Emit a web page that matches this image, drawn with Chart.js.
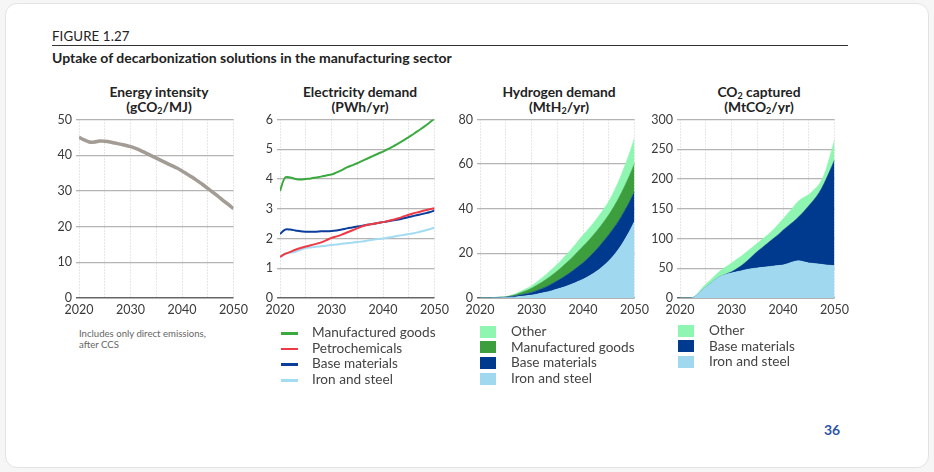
<!DOCTYPE html>
<html>
<head>
<meta charset="utf-8">
<script src="https://cdn.jsdelivr.net/npm/chart.js@4.4.0/dist/chart.umd.min.js"></script>
<style>
  html, body { margin: 0; padding: 0; }
  body { width: 934px; height: 472px; background: #f6f6f7; font-family: Lato, "Noto Sans", sans-serif; color: #222; position: relative; overflow: hidden; }
  #card { position: absolute; left: 5px; top: 3px; width: 922px; height: 463px; background: #fff; border: 1px solid #e3e3e3; border-radius: 12px; }
  .abs { position: absolute; }
  #fig { left: 52px; top: 28px; font-size: 13.3px; letter-spacing: 0.1px; }
  #rule { left: 52px; top: 45px; width: 796px; height: 1px; background: #333; }
  #sub { left: 52px; top: 49px; font-size: 14px; font-weight: bold; }
  .ttl { width: 200px; text-align: center; font-size: 13.8px; font-weight: bold; line-height: 15px; top: 84px; }
  .ttl sub { font-size: 9px; vertical-align: -2px; line-height: 0; }
  canvas.panel { position: absolute; top: 108px; }
  #note { left: 79px; top: 328px; font-size: 9.6px; color: #666; line-height: 11px; }
  .leg { font-size: 13.6px; color: #444; }
  .row { position: relative; height: 15.7px; line-height: 15.7px; white-space: nowrap; }
  .row i { position: absolute; left: 0; }
  .row span { position: absolute; }
  #page { left: 824px; top: 421px; font-size: 14px; font-weight: bold; color: #2f56a6; }
</style>
</head>
<body>
<div id="card"></div>
<div id="fig" class="abs">FIGURE 1.27</div>
<div id="rule" class="abs"></div>
<div id="sub" class="abs">Uptake of decarbonization solutions in the manufacturing sector</div>

<div class="abs ttl" style="left:59px">Energy intensity<br>(gCO<sub>2</sub>/MJ)</div>
<div class="abs ttl" style="left:260px">Electricity demand<br>(PWh/yr)</div>
<div class="abs ttl" style="left:459px">Hydrogen demand<br>(MtH<sub>2</sub>/yr)</div>
<div class="abs ttl" style="left:659px">CO<sub>2</sub> captured<br>(MtCO<sub>2</sub>/yr)</div>

<canvas id="c1" class="panel" style="left:39px" width="213" height="214"></canvas>
<canvas id="c2" class="panel" style="left:240px" width="213" height="214"></canvas>
<canvas id="c3" class="panel" style="left:440px" width="213" height="214"></canvas>
<canvas id="c4" class="panel" style="left:640px" width="213" height="214"></canvas>

<div id="note" class="abs">Includes only direct emissions,<br>after CCS</div>
<div id="leg2" class="abs leg" style="left:281px; top:325px; width:180px"></div>
<div id="leg3" class="abs leg" style="left:480px; top:324px; width:180px"></div>
<div id="leg4" class="abs leg" style="left:678px; top:323px; width:180px"></div>
<div id="page" class="abs">36</div>

<script>
const years = [2020,2021,2022,2023,2024,2025,2026,2027,2028,2029,2030,2031,2032,2033,2034,2035,2036,2037,2038,2039,2040,2041,2042,2043,2044,2045,2046,2047,2048,2049,2050];
const xTickLabels = [2020, 2030, 2040, 2050];

// Energy intensity (gCO2/MJ)
const energyIntensity = [45,44.3,43.7,43.7,44.0,43.9,43.7,43.4,43.1,42.8,42.4,41.9,41.3,40.6,39.9,39.2,38.5,37.8,37.1,36.4,35.6,34.7,33.8,32.8,31.8,30.7,29.6,28.5,27.3,26.2,25];

// Electricity demand (PWh/yr)
const elecManufactured = [3.6,4.05,4.05,4.0,3.98,4.0,4.02,4.05,4.08,4.12,4.15,4.22,4.3,4.39,4.46,4.53,4.61,4.69,4.77,4.85,4.92,5.01,5.1,5.2,5.3,5.41,5.52,5.64,5.76,5.89,6.03];
const elecPetrochem = [1.38,1.48,1.55,1.62,1.68,1.73,1.77,1.82,1.87,1.94,2.02,2.07,2.13,2.2,2.27,2.34,2.41,2.46,2.49,2.52,2.55,2.59,2.63,2.68,2.74,2.8,2.85,2.89,2.94,2.98,3.02];
const elecBase = [2.15,2.3,2.3,2.27,2.24,2.23,2.23,2.23,2.24,2.24,2.25,2.27,2.3,2.34,2.37,2.4,2.43,2.46,2.49,2.52,2.55,2.58,2.61,2.64,2.68,2.72,2.76,2.8,2.84,2.88,2.94];
const elecIron = [1.38,1.5,1.52,1.55,1.62,1.68,1.7,1.72,1.74,1.76,1.78,1.8,1.82,1.84,1.86,1.88,1.9,1.93,1.96,1.98,2.0,2.03,2.06,2.09,2.12,2.15,2.18,2.22,2.26,2.31,2.36];

// Hydrogen demand (MtH2/yr), stacked
const h2Iron = [0,0,0.05,0.1,0.15,0.2,0.35,0.5,0.75,1.0,1.3,1.7,2.2,2.7,3.3,4.0,4.7,5.5,6.4,7.4,8.4,9.6,11,12.6,14.5,16.6,19.2,22.2,25.8,29.8,34.4];
const h2Base = [0,0,0.05,0.1,0.15,0.2,0.35,0.5,0.7,0.95,1.2,1.6,2.0,2.5,3.1,3.7,4.4,5.1,5.8,6.6,7.4,8.3,9.2,10.1,11.0,11.8,12.3,12.7,13.0,13.2,13.3];
const h2Manuf = [0,0,0.03,0.05,0.08,0.1,0.3,0.6,1.0,1.4,1.9,2.4,2.9,3.4,3.9,4.4,5.0,5.6,6.2,6.8,7.4,7.7,8.0,8.3,8.6,8.9,9.5,10.2,11,11.8,12.6];
const h2Other = [0,0,0.02,0.04,0.07,0.1,0.25,0.45,0.65,0.9,1.1,1.5,1.9,2.3,2.7,3.0,3.4,3.8,4.2,4.6,5.0,5.2,5.4,5.6,5.8,6.0,6.8,7.7,8.8,10.0,11.4];

// CO2 captured (MtCO2/yr), stacked
const co2Iron = [0,0,0,3,11,18,25,32,37,40,42,44,46,48,49.5,50.5,51.5,52.5,53.5,54.5,55.5,58,61,62.5,61,59,58,57,56,55,54.5];
const co2Base = [0,0,0,0,0,0,0,0,0,0.5,2,5,9,14,20.5,27.5,33.5,39.5,45.5,51.5,58.5,63,67,73.5,84,96,107,120,137,157,177.5];
const co2Other = [0,0,0,1,3,5,6,7.6,10,12.5,14.7,16,16,16,15,14,14,14,15,17,19,22,25,27,24,19,17,14,15,23,34];

Chart.defaults.font.family = 'Lato, "Noto Sans", sans-serif';
Chart.defaults.font.size = 12;
Chart.defaults.color = '#333';

const pts = (vals) => years.map((yr, i) => ({ x: yr, y: vals[i] }));

const lineSet = (label, vals, color, width) => ({
    label: label,
    data: pts(vals),
    borderColor: color,
    borderWidth: width,
    pointRadius: 0,
    tension: 0.35,
    fill: false
});

const areaSet = (label, vals, color, first) => ({
    label: label,
    data: pts(vals),
    backgroundColor: color,
    borderColor: color,
    borderWidth: 0.5,
    pointRadius: 0,
    cubicInterpolationMode: 'monotone',
    fill: first ? 'origin' : '-1'
});

function makeChart(id, datasets, yMax, yStep, stacked) {
    return new Chart(document.getElementById(id), {
        type: 'line',
        data: { datasets: datasets },
        options: {
            responsive: false,
            animation: false,
            layout: { padding: { top: 8, right: 14, left: 0, bottom: 0 } },
            plugins: { legend: { display: false }, tooltip: { enabled: false } },
            scales: {
                x: {
                    type: 'linear',
                    min: 2020,
                    max: 2050,
                    afterFit: (s) => { s.height = 24; },
                    ticks: {
                        stepSize: 5,
                        autoSkip: false,
                        maxRotation: 0,
                        padding: 4,
                        font: { size: 12.5 },
                        color: '#3a3a3a',
                        callback: (v) => xTickLabels.includes(v) ? String(v) : ''
                    },
                    grid: { color: '#cfcfcf', lineWidth: 1, drawTicks: false },
                    border: { display: false, dash: [1, 2] }
                },
                y: {
                    min: 0,
                    max: yMax,
                    stacked: stacked,
                    afterFit: (s) => { s.width = 40; },
                    ticks: { stepSize: yStep, padding: 4, font: { size: 12.5 }, color: '#3a3a3a' },
                    grid: {
                        color: (c) => c.tick && c.tick.value === 0 ? '#666' : '#b4b4b4',
                        lineWidth: (c) => c.tick && c.tick.value === 0 ? 1.5 : 1.3,
                        tickLength: 3
                    },
                    border: { display: false }
                }
            }
        }
    });
}

makeChart('c1', [lineSet('Energy intensity', energyIntensity, '#a39c94', 3.5)], 50, 10, false);

makeChart('c2', [
    lineSet('Manufactured goods', elecManufactured, '#3aaa3f', 2),
    lineSet('Petrochemicals', elecPetrochem, '#ee3a45', 2),
    lineSet('Base materials', elecBase, '#0b3d9c', 2),
    lineSet('Iron and steel', elecIron, '#a3dcf2', 2)
], 6, 1, false);

makeChart('c3', [
    areaSet('Iron and steel', h2Iron, '#9fd8ef', true),
    areaSet('Base materials', h2Base, '#003a8e', false),
    areaSet('Manufactured goods', h2Manuf, '#3c9e3c', false),
    areaSet('Other', h2Other, '#8ff6b2', false)
], 80, 20, true);

makeChart('c4', [
    areaSet('Iron and steel', co2Iron, '#9fd8ef', true),
    areaSet('Base materials', co2Base, '#003a8e', false),
    areaSet('Other', co2Other, '#8ff6b2', false)
], 300, 50, true);

// legends
function legend(id, items, kind, textLeft) {
    const el = document.getElementById(id);
    items.forEach(([label, color]) => {
        const row = document.createElement('div');
        row.className = 'row';
        const mk = document.createElement('i');
        if (kind === 'line') {
            mk.style.cssText = 'top:7px;width:17px;height:2.5px;background:' + color;
        } else {
            mk.style.cssText = 'top:1.5px;width:16px;height:12px;background:' + color;
        }
        const tx = document.createElement('span');
        tx.style.left = textLeft + 'px';
        tx.textContent = label;
        row.appendChild(mk);
        row.appendChild(tx);
        el.appendChild(row);
    });
}

legend('leg2', [['Manufactured goods', '#3aaa3f'], ['Petrochemicals', '#ee3a45'], ['Base materials', '#0b3d9c'], ['Iron and steel', '#a3dcf2']], 'line', 31);
legend('leg3', [['Other', '#8ff6b2'], ['Manufactured goods', '#3c9e3c'], ['Base materials', '#003a8e'], ['Iron and steel', '#9fd8ef']], 'box', 31);
legend('leg4', [['Other', '#8ff6b2'], ['Base materials', '#003a8e'], ['Iron and steel', '#9fd8ef']], 'box', 31);
</script>
</body>
</html>
